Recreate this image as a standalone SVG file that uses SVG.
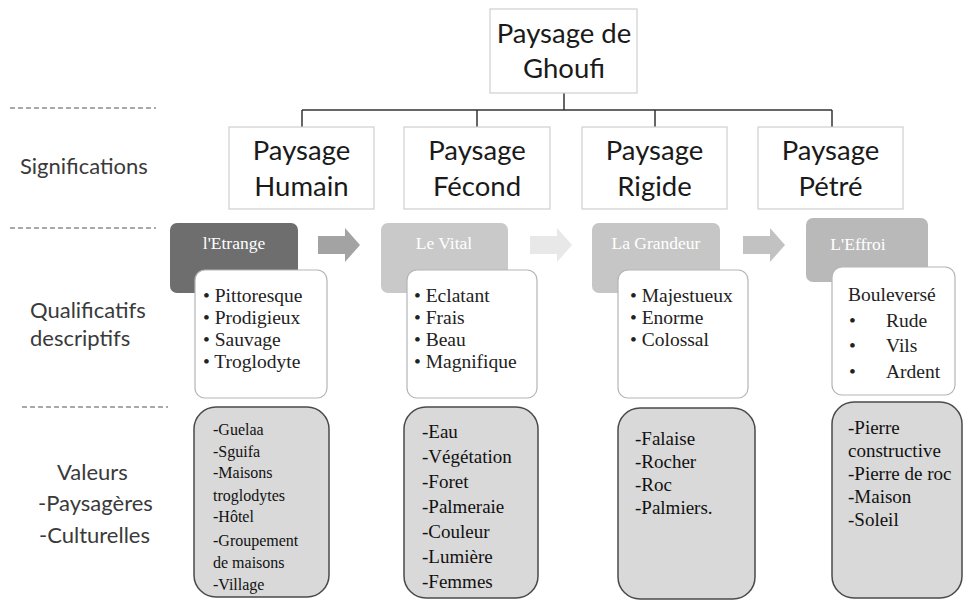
<svg xmlns="http://www.w3.org/2000/svg" width="963" height="600" viewBox="0 0 963 600">
<defs>
<style>
.bg{fill:#ffffff}
.lbl{font-family:Lato,"Liberation Sans",sans-serif;font-size:22px;fill:#3a3a3a}
.big{font-family:Lato,"Liberation Sans",sans-serif;font-size:27.5px;fill:#1a1a1a;text-anchor:middle}
.wbox{fill:#ffffff;stroke:#cfcfcf;stroke-width:1.2}
.conn{stroke:#333333;stroke-width:1.5;fill:none}
.dash{stroke:#555555;stroke-width:1.2;stroke-dasharray:5,3;fill:none}
.tab{font-family:"Liberation Serif",serif;font-size:17.5px;fill:#ffffff;text-anchor:middle}
.qbox{fill:#ffffff;stroke:#b5b5b5;stroke-width:1.2}
.qt{font-family:"Liberation Serif",serif;font-size:19.5px;fill:#222222}
.vbox{fill:#d9d9d9;stroke:#4a4a4a;stroke-width:1.5}
.vt{font-family:"Liberation Serif",serif;font-size:19px;fill:#111111}
.vt2{font-family:"Liberation Serif",serif;font-size:16px;fill:#111111}
</style>
</defs>
<rect class="bg" x="0" y="0" width="963" height="600"/>

<g id="separators">
<line class="dash" x1="10" y1="108" x2="156" y2="108"/>
<line class="dash" x1="10" y1="228" x2="156" y2="228"/>
<line class="dash" x1="22" y1="407" x2="168" y2="407"/>
</g>

<g id="row-labels">
<text class="lbl" x="20" y="174">Significations</text>
<text class="lbl" x="30" y="318">Qualificatifs</text>
<text class="lbl" x="30" y="346">descriptifs</text>
<text class="lbl" x="57" y="480">Valeurs</text>
<text class="lbl" x="38" y="511">-Paysagères</text>
<text class="lbl" x="39" y="543">-Culturelles</text>
</g>

<g id="connectors">
<line class="conn" x1="564" y1="93" x2="564" y2="110"/>
<line class="conn" x1="302" y1="110" x2="832" y2="110"/>
<line class="conn" x1="302" y1="110" x2="302" y2="127"/>
<line class="conn" x1="477" y1="110" x2="477" y2="127"/>
<line class="conn" x1="655" y1="110" x2="655" y2="127"/>
<line class="conn" x1="832" y1="110" x2="832" y2="127"/>
</g>

<g id="root">
<rect class="wbox" x="490" y="9" width="147" height="84"/>
<text class="big" x="564" y="43">Paysage de</text>
<text class="big" x="564" y="78">Ghoufi</text>
</g>

<g id="humain">
<rect class="wbox" x="229" y="127" width="145" height="82"/>
<text class="big" x="301.5" y="160">Paysage</text>
<text class="big" x="301.5" y="196">Humain</text>
</g>
<g id="fecond">
<rect class="wbox" x="404" y="127" width="146" height="82"/>
<text class="big" x="477" y="160">Paysage</text>
<text class="big" x="477" y="196">Fécond</text>
</g>
<g id="rigide">
<rect class="wbox" x="582" y="127" width="145" height="82"/>
<text class="big" x="654.5" y="160">Paysage</text>
<text class="big" x="654.5" y="196">Rigide</text>
</g>
<g id="petre">
<rect class="wbox" x="758" y="127" width="145" height="82"/>
<text class="big" x="830.5" y="160">Paysage</text>
<text class="big" x="830.5" y="196">Pétré</text>
</g>

<g id="arrows">
<polygon points="318,236 345,236 345,228 360,245 345,262 345,254 318,254" fill="#a3a3a3"/>
<polygon points="530,236 557,236 557,228 572,245 557,262 557,254 530,254" fill="#e8e8e8"/>
<polygon points="743,236 770,236 770,228 785,245 770,262 770,254 743,254" fill="#c2c2c2"/>
</g>

<g id="etrange">
<rect x="170" y="223" width="128" height="70" rx="7" fill="#6e6e6e"/>
<text class="tab" x="234" y="249">l'Etrange</text>
<rect class="qbox" x="195" y="270" width="132" height="128" rx="10"/>
<text class="qt" x="203" y="302">• Pittoresque</text>
<text class="qt" x="203" y="324">• Prodigieux</text>
<text class="qt" x="203" y="346">• Sauvage</text>
<text class="qt" x="203" y="368">• Troglodyte</text>
</g>

<g id="vital">
<rect x="381" y="223" width="127" height="70" rx="7" fill="#c9c9c9"/>
<text class="tab" x="444" y="249">Le Vital</text>
<rect class="qbox" x="407" y="270" width="130" height="128" rx="10"/>
<text class="qt" x="414" y="302">• Eclatant</text>
<text class="qt" x="414" y="324">• Frais</text>
<text class="qt" x="414" y="346">• Beau</text>
<text class="qt" x="414" y="368">• Magnifique</text>
</g>

<g id="grandeur">
<rect x="592" y="223" width="128" height="70" rx="7" fill="#c6c6c6"/>
<text class="tab" x="656" y="249">La Grandeur</text>
<rect class="qbox" x="618" y="270" width="130" height="128" rx="10"/>
<text class="qt" x="630" y="302">• Majestueux</text>
<text class="qt" x="630" y="324">• Enorme</text>
<text class="qt" x="630" y="346">• Colossal</text>
</g>

<g id="effroi">
<rect x="806" y="218" width="122" height="64" rx="7" fill="#b9b9b9"/>
<text class="tab" x="858" y="250">L'Effroi</text>
<rect class="qbox" x="832" y="267" width="123" height="128" rx="10"/>
<text class="qt" x="848" y="301">Bouleversé</text>
<text class="qt" x="849" y="327">•</text>
<text class="qt" x="886" y="327">Rude</text>
<text class="qt" x="849" y="352">•</text>
<text class="qt" x="886" y="352">Vils</text>
<text class="qt" x="849" y="378">•</text>
<text class="qt" x="886" y="378">Ardent</text>
</g>

<g id="val-humain">
<rect class="vbox" x="194" y="407" width="135" height="190" rx="22"/>
<text class="vt2" x="213" y="435">-Guelaa</text>
<text class="vt2" x="213" y="457">-Sguifa</text>
<text class="vt2" x="213" y="478">-Maisons</text>
<text class="vt2" x="213" y="501">troglodytes</text>
<text class="vt2" x="213" y="522">-Hôtel</text>
<text class="vt2" x="213" y="546">-Groupement</text>
<text class="vt2" x="213" y="568">de maisons</text>
<text class="vt2" x="213" y="590">-Village</text>
</g>

<g id="val-fecond">
<rect class="vbox" x="404" y="407" width="134" height="191" rx="22"/>
<text class="vt" x="422" y="438">-Eau</text>
<text class="vt" x="422" y="463">-Végétation</text>
<text class="vt" x="422" y="488">-Foret</text>
<text class="vt" x="422" y="513">-Palmeraie</text>
<text class="vt" x="422" y="538">-Couleur</text>
<text class="vt" x="422" y="563">-Lumière</text>
<text class="vt" x="422" y="588">-Femmes</text>
</g>

<g id="val-rigide">
<rect class="vbox" x="618" y="408" width="137" height="191" rx="22"/>
<text class="vt" x="635" y="445">-Falaise</text>
<text class="vt" x="635" y="468">-Rocher</text>
<text class="vt" x="635" y="491">-Roc</text>
<text class="vt" x="635" y="514">-Palmiers.</text>
</g>

<g id="val-petre">
<rect class="vbox" x="832" y="402" width="130" height="196" rx="22"/>
<text class="vt" x="848" y="434">-Pierre</text>
<text class="vt" x="848" y="457">constructive</text>
<text class="vt" x="848" y="480">-Pierre de roc</text>
<text class="vt" x="848" y="503">-Maison</text>
<text class="vt" x="848" y="526">-Soleil</text>
</g>
</svg>
